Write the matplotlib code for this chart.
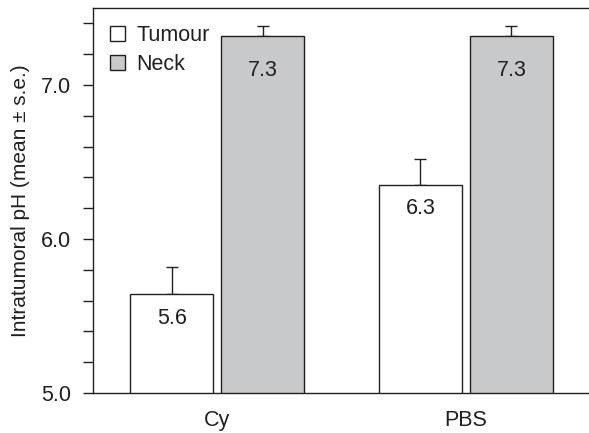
import matplotlib.pyplot as plt
import numpy as np

plt.rcParams['font.family'] = ['Liberation Sans', 'DejaVu Sans']

grupos = ['Cy', 'PBS']
tumour = [5.64, 6.35]
tumour_se = [0.18, 0.17]
neck = [7.32, 7.32]
neck_se = [0.06, 0.06]
etiq_tumour = ['5.6', '6.3']
etiq_neck = ['7.3', '7.3']

negro = '#231f20'
gris = '#c8c9cb'

fig = plt.figure(figsize=(5.89, 4.33), dpi=100)
ax = fig.add_axes([93/589, 1 - 393/433, 1 - 93/589 + 0.002, 385/433])

x = np.arange(len(grupos))
w = 0.333
d = 0.183
ax.bar(x - d, tumour, w, bottom=0, color='white', edgecolor=negro, linewidth=1, label='Tumour', zorder=2)
ax.bar(x + d, neck, w, color=gris, edgecolor=negro, linewidth=1, label='Neck', zorder=2)
ax.errorbar(x - d, tumour, yerr=[np.zeros(2), tumour_se], fmt='none', ecolor=negro, elinewidth=1, capsize=4, capthick=1, zorder=1)
ax.errorbar(x + d, neck, yerr=[np.zeros(2), neck_se], fmt='none', ecolor=negro, elinewidth=1, capsize=4, capthick=1, zorder=1)

for i in range(len(grupos)):
    ax.text(x[i] - d, tumour[i] - 0.155, etiq_tumour[i], ha='center', va='center', fontsize=15.5, color=negro, zorder=3)
    ax.text(x[i] + d, neck[i] - 0.225, etiq_neck[i], ha='center', va='center', fontsize=15.5, color=negro, zorder=3)

ax.set_xlim(-0.5, 1.5)
ax.set_ylim(5.0, 7.5)
ax.set_yticks([5.0, 6.0, 7.0])
ax.set_yticklabels(['5.0', '6.0', '7.0'])
ax.set_yticks(np.arange(5.0, 7.45, 0.2), minor=True)
ax.tick_params(axis='y', which='both', direction='out', length=7, width=1, color=negro, labelsize=15.5, labelcolor=negro, pad=9)
ax.set_xticks(x)
ax.set_xticklabels(grupos)
ax.tick_params(axis='x', length=0, labelsize=15.5, labelcolor=negro, pad=12)
ax.set_ylabel('Intratumoral pH (mean \u00b1 s.e.)', fontsize=15, color=negro, labelpad=8)

for s in ['left', 'top', 'bottom']:
    ax.spines[s].set_color(negro)
    ax.spines[s].set_linewidth(1)
ax.spines['right'].set_visible(False)

leg = ax.legend(loc='upper left', frameon=False, fontsize=15.5, handlelength=0.68, handleheight=0.68,
                handletextpad=0.55, labelspacing=0.35, borderaxespad=0.4, bbox_to_anchor=(0.0, 1.0))
for t in leg.get_texts():
    t.set_color(negro)

fig.savefig('out.png', dpi=100)
